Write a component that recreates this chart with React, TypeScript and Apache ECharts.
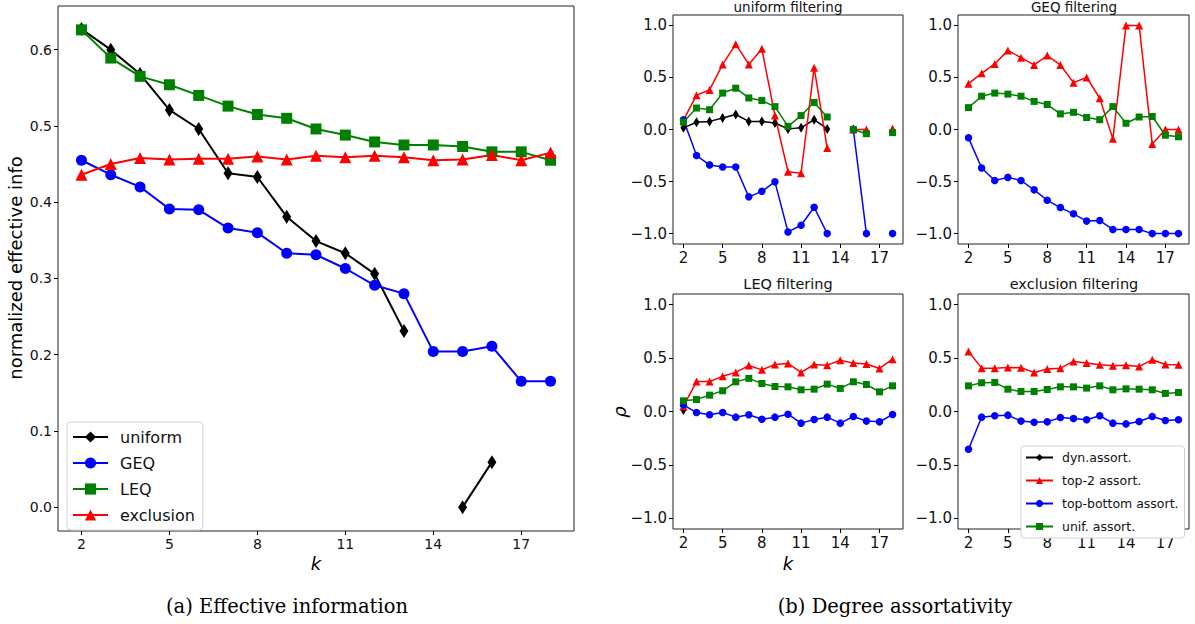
import React, { useEffect, useRef } from "react";
import * as echarts from "echarts";

// ---------- data ----------
const kValues = [2, 3, 4, 5, 6, 7, 8, 9, 10, 11, 12, 13, 14, 15, 16, 17, 18];
const xTicks = [2, 5, 8, 11, 14, 17];
const leftYTicks = [0, 0.1, 0.2, 0.3, 0.4, 0.5, 0.6];
const rightYTicks = [-1, -0.5, 0, 0.5, 1];

// (a) Effective information
const effNames = ["uniform", "GEQ", "LEQ", "exclusion"];
const effUniform = [0.627, 0.6, 0.568, 0.521, 0.496, 0.438, 0.433, 0.381, 0.349, 0.333, 0.306, 0.231, null, 0.0, 0.059, null, null];
const effGEQ = [0.455, 0.436, 0.42, 0.391, 0.39, 0.366, 0.36, 0.333, 0.331, 0.313, 0.291, 0.28, 0.204, 0.204, 0.211, 0.165, 0.165];
const effLEQ = [0.626, 0.589, 0.565, 0.554, 0.54, 0.526, 0.515, 0.51, 0.496, 0.488, 0.479, 0.475, 0.475, 0.473, 0.466, 0.466, 0.455];
const effExcl = [0.436, 0.45, 0.458, 0.456, 0.457, 0.457, 0.46, 0.456, 0.461, 0.459, 0.461, 0.459, 0.455, 0.456, 0.462, 0.455, 0.465];

// (b) Degree assortativity
const assortNames = ["dyn.assort.", "top-2 assort.", "top-bottom assort.", "unif. assort."];
const panelTitles = ["uniform filtering", "GEQ filtering", "LEQ filtering", "exclusion filtering"];

const uniDyn = [0.016, 0.07, 0.078, 0.11, 0.144, 0.078, 0.078, 0.062, 0.006, 0.016, 0.094, 0.006, null, 0.0, null, null, null];
const uniTop2 = [0.09, 0.33, 0.38, 0.625, 0.82, 0.625, 0.775, 0.134, -0.406, -0.42, 0.594, -0.178, null, 0.0, 0.0, null, 0.01];
const uniTB = [0.094, -0.25, -0.34, -0.36, -0.36, -0.647, -0.594, -0.503, -0.984, -0.92, -0.747, -1.0, null, 0.0, -1.0, null, -1.0];
const uniUnif = [0.072, 0.206, 0.19, 0.35, 0.397, 0.303, 0.278, 0.22, 0.03, 0.134, 0.26, 0.12, null, 0.0, -0.04, null, -0.03];

const geqTop2 = [0.44, 0.54, 0.63, 0.76, 0.69, 0.62, 0.71, 0.62, 0.45, 0.5, 0.3, -0.09, 1.0, 1.0, -0.14, 0.0, 0.0];
const geqTB = [-0.08, -0.37, -0.49, -0.46, -0.49, -0.58, -0.68, -0.75, -0.81, -0.88, -0.875, -0.96, -0.96, -0.96, -1.0, -1.0, -1.0];
const geqUnif = [0.21, 0.32, 0.35, 0.34, 0.32, 0.27, 0.24, 0.15, 0.165, 0.115, 0.094, 0.22, 0.06, 0.12, 0.125, -0.055, -0.07];

const leqDyn = [0.015, null, null, null, null, null, null, null, null, null, null, null, null, null, null, null, null];
const leqTop2 = [0.05, 0.28, 0.28, 0.33, 0.366, 0.43, 0.39, 0.44, 0.45, 0.366, 0.44, 0.434, 0.48, 0.453, 0.444, 0.403, 0.49];
const leqTB = [0.062, -0.01, -0.031, -0.01, -0.053, -0.031, -0.072, -0.053, -0.025, -0.109, -0.075, -0.053, -0.109, -0.047, -0.09, -0.097, -0.028];
const leqUnif = [0.1, 0.112, 0.153, 0.194, 0.278, 0.31, 0.262, 0.234, 0.231, 0.203, 0.209, 0.256, 0.216, 0.278, 0.253, 0.184, 0.24];

const excTop2 = [0.562, 0.406, 0.406, 0.412, 0.41, 0.366, 0.397, 0.406, 0.469, 0.453, 0.437, 0.428, 0.434, 0.422, 0.484, 0.44, 0.437];
const excTB = [-0.353, -0.053, -0.04, -0.034, -0.09, -0.1, -0.097, -0.056, -0.066, -0.078, -0.04, -0.109, -0.116, -0.094, -0.047, -0.084, -0.078];
const excUnif = [0.24, 0.269, 0.272, 0.209, 0.187, 0.187, 0.206, 0.231, 0.231, 0.219, 0.24, 0.203, 0.212, 0.209, 0.203, 0.169, 0.178];

// ---------- styling ----------
const FONT = "DejaVu Sans";
const BLACK = "#000000";
const BLUE = "#0000ff";
const GREEN = "#008000";
const RED = "#ff0000";

const grids = [
  { left: 58, top: 6, width: 516, height: 525 },
  { left: 673, top: 15, width: 230, height: 229 },
  { left: 958, top: 15, width: 231, height: 229 },
  { left: 673, top: 294, width: 230, height: 235 },
  { left: 958, top: 294, width: 231, height: 235 },
];

const pairs = (vals: (number | null)[]) =>
  vals.map((v, i) => [kValues[i], v === null ? "-" : v]);

const fmtTick = (v: number) => {
  const s = Math.abs(v).toFixed(1);
  return v < 0 ? "\u2212" + s : s;
};

function lineSeries(
  name: string,
  vals: (number | null)[],
  idx: number,
  color: string,
  symbol: string,
  size: number | number[],
  width: number
) {
  return {
    type: "line",
    name,
    xAxisIndex: idx,
    yAxisIndex: idx,
    data: pairs(vals),
    connectNulls: false,
    symbol,
    symbolSize: size,
    showSymbol: true,
    showAllSymbol: true,
    lineStyle: { color, width },
    itemStyle: { color, borderWidth: 0 },
    emphasis: { disabled: true },
    clip: false,
  };
}

export default function App() {
  const ref = useRef<HTMLDivElement>(null);
  useEffect(() => {
    if (!ref.current) return;
    const chart = echarts.init(ref.current, null, { renderer: "svg" });

    const xAxes = grids.map((_, i) => ({
      gridIndex: i,
      type: "value",
      position: "bottom",
      min: 1.2,
      max: 18.8,
      splitLine: { show: false },
      axisLine: { show: false, onZero: false },
      axisTick: {
        show: true,
        customValues: xTicks,
        length: 4,
        lineStyle: { color: "#000", width: 1 },
      },
      axisLabel: {
        customValues: xTicks,
        fontSize: i === 0 ? 14 : 15,
        color: "#111",
        fontFamily: FONT,
        margin: 6,
        formatter: (v: number) => String(v),
      },
    }));

    const yAxes = grids.map((_, i) => {
      const isLeft = i === 0;
      const ticks = isLeft ? leftYTicks : rightYTicks;
      return {
        gridIndex: i,
        type: "value",
        position: "left",
        min: isLeft ? -0.0313 : -1.1,
        max: isLeft ? 0.6573 : 1.1,
        splitLine: { show: false },
        axisLine: { show: false, onZero: false },
        axisTick: {
          show: true,
          customValues: ticks,
          length: 4,
          lineStyle: { color: "#000", width: 1 },
        },
        axisLabel: {
          customValues: ticks,
          fontSize: isLeft ? 14 : 15,
          color: "#111",
          fontFamily: FONT,
          margin: 6,
          formatter: (v: number) => fmtTick(v),
        },
      };
    });

    const series: any[] = [
      lineSeries(effNames[0], effUniform, 0, BLACK, "diamond", [9, 14], 2),
      lineSeries(effNames[1], effGEQ, 0, BLUE, "circle", 11, 2),
      lineSeries(effNames[2], effLEQ, 0, GREEN, "rect", 11, 2),
      lineSeries(effNames[3], effExcl, 0, RED, "triangle", 12, 2),
    ];

    const panelData = [
      [uniDyn, uniTop2, uniTB, uniUnif],
      [null, geqTop2, geqTB, geqUnif],
      [leqDyn, leqTop2, leqTB, leqUnif],
      [null, excTop2, excTB, excUnif],
    ];
    const pColors = [BLACK, RED, BLUE, GREEN];
    const pSymbols = ["diamond", "triangle", "circle", "rect"];
    const pSizes: any[] = [[6, 10], 8, 7.5, 7];
    panelData.forEach((set, p) => {
      set.forEach((vals, s) => {
        if (!vals) return;
        series.push(
          lineSeries(assortNames[s], vals as any, p + 1, pColors[s], pSymbols[s], pSizes[s], 1.5)
        );
      });
    });

    const titlePos = [
      [788, 0, "top", 13.5],
      [1074, 0, "top", 13.5],
      [788, 284, "middle", 14.5],
      [1074, 284, "middle", 14.5],
    ];

    const textEl = (x: number, y: number, text: string, extra: any = {}, rotation = 0) => ({
      type: "text",
      x,
      y,
      rotation,
      style: {
        text,
        fontSize: 18,
        fontFamily: FONT,
        fill: "#000",
        align: "center",
        verticalAlign: "middle",
        ...extra,
      },
    });

    const graphics: any[] = [
      textEl(15, 268, "normalized effective info", {}, Math.PI / 2),
      textEl(316, 563, "k", { fontStyle: "italic" }),
      textEl(788, 563, "k", { fontStyle: "italic" }),
      textEl(619, 412, "\u03C1", { fontStyle: "italic" }, Math.PI / 2),
      textEl(287, 606, "(a) Effective information", { fontSize: 19.5, fontFamily: "DejaVu Serif" }),
      textEl(895, 606, "(b) Degree assortativity", { fontSize: 19.5, fontFamily: "DejaVu Serif" }),
      ...panelTitles.map((t, i) =>
        textEl(titlePos[i][0] as number, titlePos[i][1] as number, t, {
          fontSize: titlePos[i][3],
          fill: "#111",
          verticalAlign: titlePos[i][2],
        })
      ),
    ];

    chart.setOption({
      animation: false,
      textStyle: { fontFamily: FONT },
      grid: grids.map((g) => ({
        ...g,
        show: true,
        borderColor: "#222",
        borderWidth: 1,
        backgroundColor: "transparent",
        containLabel: false,
      })),
      xAxis: xAxes,
      yAxis: yAxes,
      legend: [
        {
          data: effNames,
          orient: "vertical",
          left: 67,
          top: 422,
          itemWidth: 35,
          itemHeight: 14,
          itemGap: 10,
          selectedMode: false,
          backgroundColor: "#fff",
          borderColor: "#d0d0d0",
          borderWidth: 1,
          borderRadius: 4,
          padding: [7, 8, 7, 5],
          textStyle: { fontSize: 16, color: "#111", fontFamily: FONT, lineHeight: 14, padding: [0, 0, 0, 7] },
        },
        {
          data: assortNames,
          orient: "vertical",
          left: 1021,
          top: 446,
          itemWidth: 27,
          itemHeight: 9,
          itemGap: 10,
          selectedMode: false,
          backgroundColor: "#fff",
          borderColor: "#d0d0d0",
          borderWidth: 1,
          borderRadius: 3,
          padding: [5, 6, 5, 4],
          textStyle: { fontSize: 12.5, color: "#111", fontFamily: FONT, lineHeight: 9, padding: [0, 0, 0, 4] },
        },
      ],
      series,
      graphic: graphics,
    });

    return () => chart.dispose();
  }, []);

  return (
    <div
      ref={ref}
      style={{ position: "absolute", left: 0, top: 0, width: 1195, height: 624, background: "#fff" }}
    />
  );
}
